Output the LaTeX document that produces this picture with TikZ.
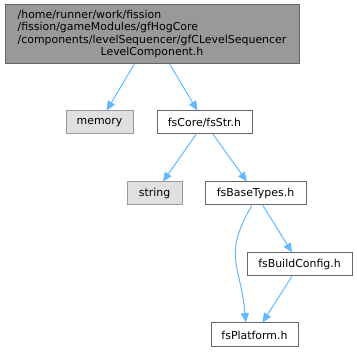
\documentclass[tikz,border=0pt]{standalone}
\usepackage{fontspec}
\setmainfont{DejaVu Sans}
\usepackage{xcolor}
\definecolor{dxEdge}{HTML}{63B8FF}
\definecolor{dxRoot}{HTML}{999999}
\definecolor{dxBorder}{HTML}{666666}
\definecolor{dxSys}{HTML}{E0E0E0}
\definecolor{dxSysBorder}{HTML}{999999}
\usetikzlibrary{arrows.meta}

\begin{document}
\begin{tikzpicture}[
  x=0.75pt, y=-0.75pt,
  box/.style={draw=dxBorder, fill=white, rectangle, inner sep=0pt,
              minimum height=17.25pt, line width=0.75pt,
              font=\fontsize{8.2}{9.2}\selectfont},
  sys/.style={box, draw=dxSysBorder, fill=dxSys},
  arr/.style={-{Triangle[length=7pt, width=6pt]}, draw=dxEdge, line width=0.75pt}
]
\useasboundingbox (0,0) rectangle (357,352);
\node[box, fill=dxRoot, minimum width=220.5pt, minimum height=44.25pt] (root) at (152, 34.5)
  {\begin{tabular}{@{}l@{}}/home/runner/work/fission\\/fission/gameModules/gfHogCore\\
   /components/levelSequencer/gfCLevelSequencer\\\multicolumn{1}{@{}c@{}}{LevelComponent.h}\end{tabular}};
\node[sys, minimum width=50.25pt]  (mem)  at (99.5, 122.5)  {memory};
\node[box, minimum width=71.25pt]  (str)  at (204.5, 122.5) {fsCore/fsStr.h};
\node[sys, minimum width=41.25pt]  (strg) at (154.5, 193.5) {string};
\node[box, minimum width=75.75pt]  (base) at (255.5, 193.5) {fsBaseTypes.h};
\node[box, minimum width=78.75pt]  (conf) at (299.5, 264.5) {fsBuildConfig.h};
\node[box, minimum width=65.25pt, minimum height=18pt] (plat) at (254.5, 335) {fsPlatform.h};
\draw[arr] (root) -- (mem);
\draw[arr] (root) -- (str);
\draw[arr] (str)  -- (strg);
\draw[arr] (str)  -- (base);
\draw[arr] (base.-107) to[out=-120, in=95, looseness=1.3] (plat.125);
\draw[arr] (base) -- (conf);
\draw[arr] (conf) -- (plat);
\end{tikzpicture}
\end{document}
